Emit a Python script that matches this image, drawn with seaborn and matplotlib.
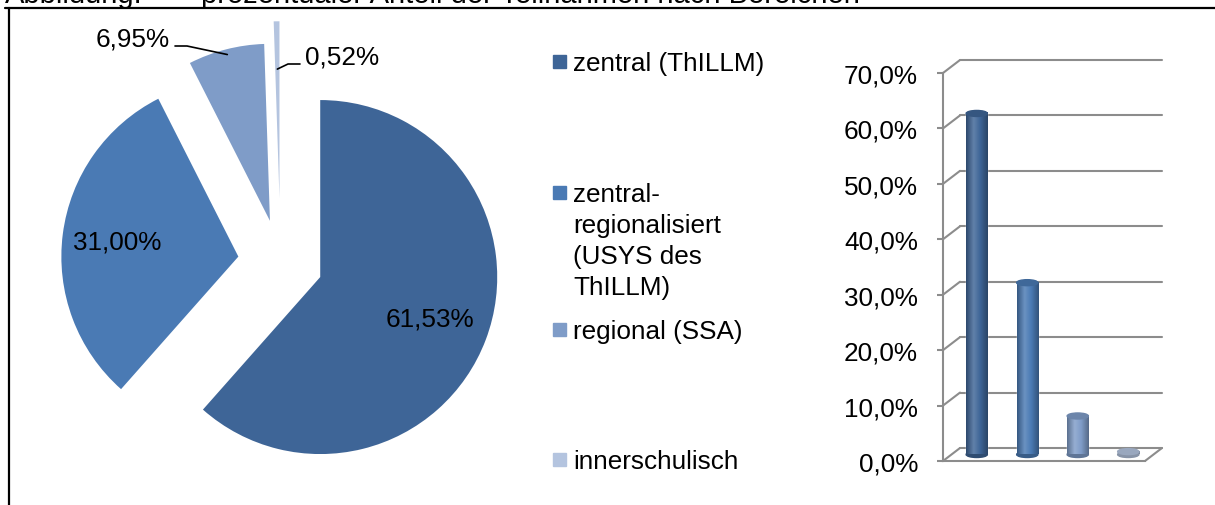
import numpy as np
import pandas as pd
import matplotlib
matplotlib.use("Agg")
import matplotlib.pyplot as plt
import matplotlib.transforms as mtransforms
from matplotlib.patches import Ellipse, Rectangle, ConnectionPatch
from matplotlib.colors import LinearSegmentedColormap, to_rgb
from matplotlib.lines import Line2D
import seaborn as sns

# ---------------------------------------------
# Data
# ---------------------------------------------
categories = ["zentral (ThILLM)",
              "zentral-regionalisiert (USYS des ThILLM)",
              "regional (SSA)",
              "innerschulisch"]
legend_labels = ["zentral (ThILLM)",
                 "zentral-\nregionalisiert\n(USYS des\nThILLM)",
                 "regional (SSA)",
                 "innerschulisch"]
shares = [61.53, 31.00, 6.95, 0.52]          # percent
colors = ["#3E6597", "#4A7AB4", "#7F9CC8", "#B4C4DF"]
y_ticks = [0, 10, 20, 30, 40, 50, 60, 70]
title_lead = "Abbildung:"
title_text = "prozentualer Anteil der Teilnahmen nach Bereichen"

sns.set_style("white")
plt.rcParams["font.family"] = ["Liberation Sans", "DejaVu Sans"]
plt.rcParams["text.color"] = "black"

W, H, DPI = 1215, 506, 100
FS = 18.8
GRID = "#8C8C8C"

fig = plt.figure(figsize=(W / DPI, H / DPI), dpi=DPI)


def fx(px):
    return px / W


def fy(py):
    return 1 - py / H


def pct(v, nd):
    return f"{v:.{nd}f}%".replace(".", ",")


# frame + cut-off caption
fig.add_artist(Line2D([fx(5), 1], [fy(9), fy(9)], color="black", lw=1.6))
fig.add_artist(Line2D([fx(9), fx(9)], [fy(9), 0], color="black", lw=1.6))
fig.text(fx(5), fy(3), title_lead, fontsize=21, va="baseline")
fig.text(fx(201), fy(3), title_text, fontsize=21, va="baseline")

# ---------------------------------------------
# Pie (exploded)
# ---------------------------------------------
cx, cy, R = 280.5, 263, 177     # pixel centre / radius of the pie
half = 250
ax_pie = fig.add_axes([fx(cx - half), fy(cy + half), 2 * half / W, 2 * half / H])
explode = [0.24, 0.24, 0.24, 0.36]
wedges, _ = ax_pie.pie(shares, colors=colors, startangle=90, counterclock=False,
                       explode=explode, wedgeprops=dict(linewidth=0))
lim = half / R
ax_pie.set_xlim(-lim, lim)
ax_pie.set_ylim(-lim, lim)
ax_pie.axis("off")


def wedge_point(w, r):
    a = np.deg2rad((w.theta1 + w.theta2) / 2)
    return w.center[0] + r * np.cos(a), w.center[1] + r * np.sin(a)


def pie_xy(px, py):
    return (px - cx) / R, (cy - py) / R


# inside labels
for i, r in [(0, 0.66), (1, 0.69)]:
    x, y = wedge_point(wedges[i], r)
    ax_pie.text(x, y, pct(shares[i], 2), fontsize=FS, ha="center", va="center")

# outside labels with leader lines
ax_, ay_ = wedge_point(wedges[2], 0.97)
ex, ey = pie_xy(187, 47)
tx, ty = pie_xy(175, 47)
ax_pie.plot([ax_, ex, tx], [ay_, ey, ty], color="black", lw=1.2, clip_on=False)
lx, ly = pie_xy(170, 39)
ax_pie.text(lx, ly, pct(shares[2], 2), fontsize=FS, ha="right", va="center")

ax_, ay_ = wedge_point(wedges[3], 0.73)
ex, ey = pie_xy(288, 65)
tx, ty = pie_xy(300, 65)
ax_pie.plot([ax_, ex, tx], [ay_, ey, ty], color="black", lw=1.2, clip_on=False)
lx, ly = pie_xy(305, 57)
ax_pie.text(lx, ly, pct(shares[3], 2), fontsize=FS, ha="left", va="center")

# ---------------------------------------------
# Legend (manual, Excel-like spacing)
# ---------------------------------------------
legend_y = [62, 193, 330, 460]
line_h = 30.7
for lab, col, yc in zip(legend_labels, colors, legend_y):
    fig.add_artist(Rectangle((fx(553), fy(yc + 6.5)), 13 / W, 13 / H,
                             transform=fig.transFigure, color=col))
    for k, part in enumerate(lab.split("\n")):
        fig.text(fx(573), fy(yc + k * line_h), part, fontsize=FS,
                 va="center_baseline")

# ---------------------------------------------
# Pseudo-3D cylinder bars
# ---------------------------------------------
x0, x1 = 943, 1145      # front plane, pixels
y0, y1 = 462, 74        # rows of 0 % and 70 %
ax_bar = fig.add_axes([fx(x0), fy(y0), (x1 - x0) / W, (y0 - y1) / H])
ax_bar.patch.set_visible(False)

df = pd.DataFrame({"Bereich": categories, "Anteil": shares})
sns.barplot(data=df, x="Bereich", y="Anteil", hue="Bereich", palette=colors,
            width=0.42, saturation=1, errorbar=None, legend=False, ax=ax_bar)

DX, DY = 17, 13
back = mtransforms.offset_copy(ax_bar.transData, x=DX, y=DY, units="dots")
mid = mtransforms.offset_copy(ax_bar.transData, x=DX / 2, y=DY / 2, units="dots")

# back wall grid + diagonals to front axis
for v in y_ticks:
    ax_bar.plot([-0.5, 3.5], [v, v], transform=back, color=GRID, lw=1.5,
                clip_on=False, zorder=0)
    cp = ConnectionPatch((-0.5, v), (-0.5, v), coordsA=ax_bar.transData,
                         coordsB=back, color=GRID, lw=1.5, clip_on=False)
    ax_bar.add_artist(cp)
cp = ConnectionPatch((3.5, 0), (3.5, 0), coordsA=ax_bar.transData,
                     coordsB=back, color=GRID, lw=1.5, clip_on=False)
ax_bar.add_artist(cp)

ell_h = 6 / ((y0 - y1) / 70)    # 6 px in data units


def shade(c, f):
    r, g, b = to_rgb(c)
    if f < 1:
        return (r * f, g * f, b * f)
    return tuple(min(1, x + (1 - x) * (f - 1)) for x in (r, g, b))


grad = np.linspace(0, 1, 64)[None, :]
for p, col in zip(list(ax_bar.patches), colors):
    p.set_transform(mid)
    p.set_clip_on(False)
    x, w, h = p.get_x(), p.get_width(), p.get_height()
    xc = x + w / 2
    cmap = LinearSegmentedColormap.from_list(
        "cyl", [(0, shade(col, 0.72)), (0.35, shade(col, 1.18)),
                (0.65, col), (1, shade(col, 0.68))])
    ax_bar.add_patch(Ellipse((xc, 0), w, ell_h, transform=mid,
                             color=shade(col, 0.75), zorder=1.5, clip_on=False))
    im = ax_bar.imshow(grad, extent=[x, x + w, 0, h], cmap=cmap, aspect="auto",
                       transform=mid, zorder=2.5, interpolation="bilinear")
    im.set_clip_on(False)
    ax_bar.add_patch(Ellipse((xc, h), w, ell_h, transform=mid,
                             color=shade(col, 0.85), zorder=3, clip_on=False))

ax_bar.set_xlim(-0.5, 3.5)
ax_bar.set_ylim(0, 70)
ax_bar.set_xlabel("")
ax_bar.set_ylabel("")
ax_bar.set_xticks([])
ax_bar.set_yticks(y_ticks)
ax_bar.set_yticklabels([pct(v, 1) for v in y_ticks], fontsize=FS)
sns.despine(ax=ax_bar, top=True, right=True)
for s in ["left", "bottom"]:
    ax_bar.spines[s].set_color(GRID)
    ax_bar.spines[s].set_linewidth(1.5)
ax_bar.tick_params(axis="y", left=True, length=4.3, width=1.5, color=GRID,
                   pad=13.7, labelcolor="black")

plt.savefig("out.png", dpi=DPI)
